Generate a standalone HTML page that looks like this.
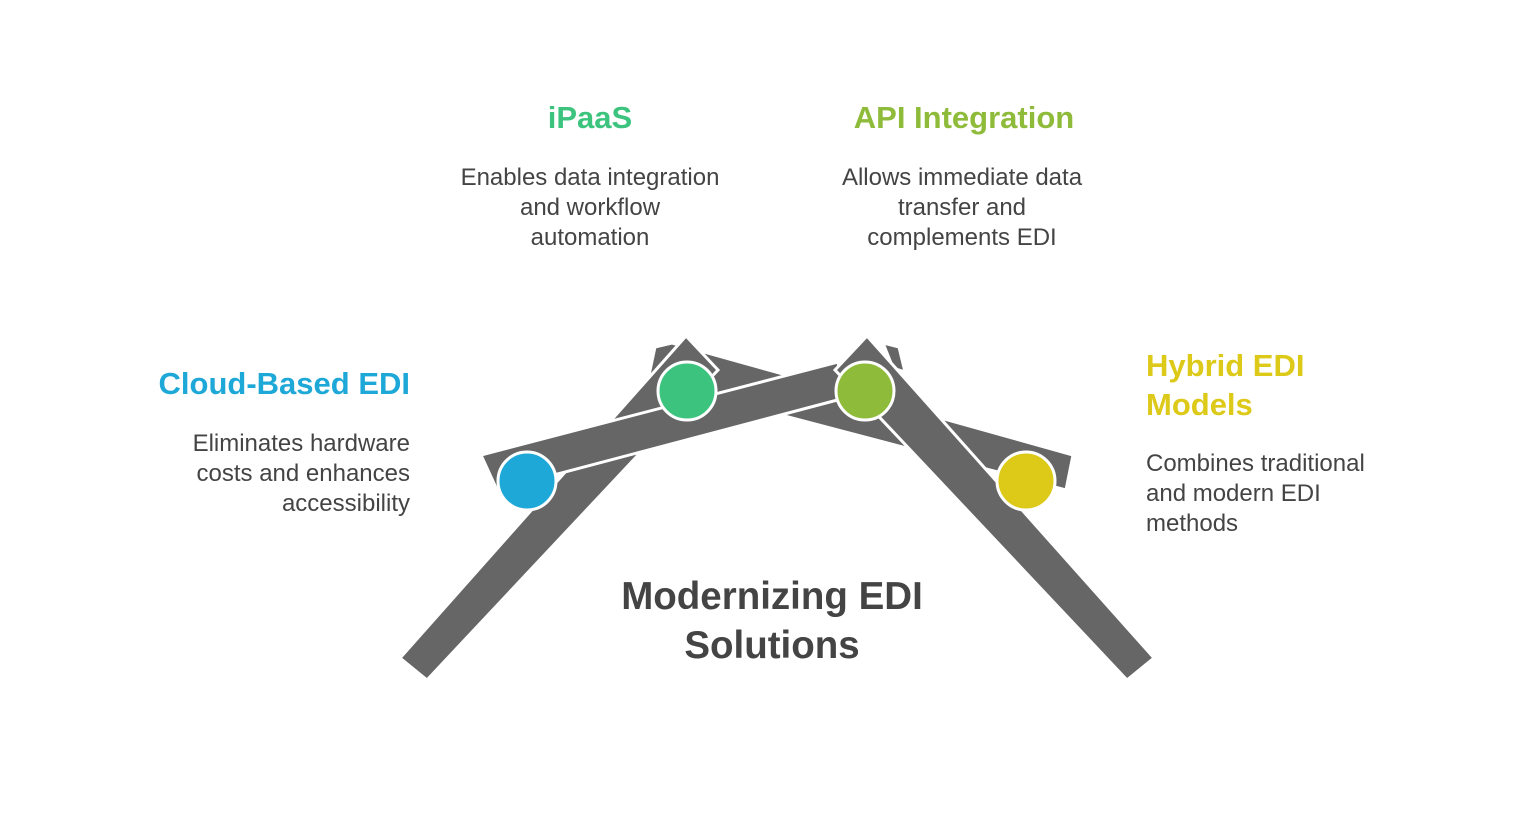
<!DOCTYPE html>
<html><head><style>
body{margin:0;background:#fff;width:1536px;height:827px;overflow:hidden;position:relative;font-family:"Liberation Sans",sans-serif}
.t{position:absolute;font-weight:bold;font-size:31px;white-space:nowrap}
.d{position:absolute;font-size:24px;line-height:30px;color:#444;white-space:nowrap}
</style></head><body>
<svg width="1536" height="827" style="position:absolute;left:0;top:0">
<g fill="#666" stroke="#fff" stroke-width="3" stroke-linejoin="miter">
<polygon points="655,347 672,343 1073,455 1066,490 648,380"/>
<polygon points="883,343 899,347 905,372 893,368"/>
<polygon points="400,658 686,336 718,370 427,680"/>
<polygon points="481,455 838,362 845,398 497,490"/>
<polygon points="1154,658 867,336 835,370 1127,680"/>
</g>
<g stroke="#fff" stroke-width="3">
<circle cx="527" cy="481" r="29" fill="#1ea8d8"/>
<circle cx="687" cy="391" r="29" fill="#3cc47f"/>
<circle cx="865" cy="391" r="29" fill="#8fbb3a"/>
<circle cx="1026" cy="481" r="29" fill="#ddc918"/>
</g>
</svg>
<div class="t" style="left:490px;width:200px;text-align:center;top:100px;color:#3cc47f">iPaaS</div>
<div class="d" style="left:440px;width:300px;text-align:center;top:163px">Enables data integration<br>and workflow<br>automation</div>
<div class="t" style="left:814px;width:300px;text-align:center;top:100px;color:#8fbb3a">API Integration</div>
<div class="d" style="left:812px;width:300px;text-align:center;top:163px">Allows immediate data<br>transfer and<br>complements EDI</div>
<div class="t" style="right:1126px;text-align:right;top:366px;color:#1ea8d8">Cloud-Based EDI</div>
<div class="d" style="right:1126px;text-align:right;top:429px">Eliminates hardware<br>costs and enhances<br>accessibility</div>
<div class="t" style="left:1146px;top:346px;line-height:39px;color:#ddc918">Hybrid EDI<br>Models</div>
<div class="d" style="left:1146px;top:449px">Combines traditional<br>and modern EDI<br>methods</div>
<div class="t" style="left:522px;width:500px;text-align:center;top:572px;font-size:38.5px;line-height:49px;color:#444">Modernizing EDI<br>Solutions</div>
</body></html>
